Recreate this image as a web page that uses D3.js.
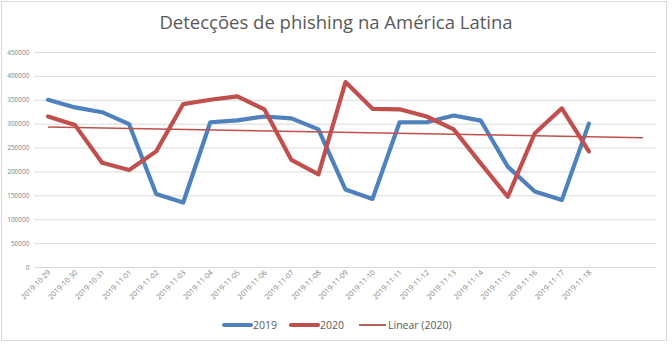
<!DOCTYPE html>
<html>
<head>
<meta charset="utf-8">
<script src="https://cdn.jsdelivr.net/npm/d3@7"></script>
<style>
  html, body { margin: 0; padding: 0; background: #fff; }
  svg { display: block; }
</style>
</head>
<body>
<svg id="chart" width="672" height="345"></svg>
<script>
// Daily phishing detections, Latin America
const dates = [
  "2019-10-29","2019-10-30","2019-10-31","2019-11-01","2019-11-02","2019-11-03",
  "2019-11-04","2019-11-05","2019-11-06","2019-11-07","2019-11-08","2019-11-09",
  "2019-11-10","2019-11-11","2019-11-12","2019-11-13","2019-11-14","2019-11-15",
  "2019-11-16","2019-11-17","2019-11-18"
];
const values2019 = [
  350000, 334000, 324000, 299000, 153000, 135000, 303000, 307000, 315000, 311000,
  288000, 162000, 142500, 303000, 303000, 317000, 306500, 210000, 158000, 140000, 300000
];
const values2020 = [
  315000, 297000, 218000, 203000, 242000, 341000, 350000, 357000, 330000, 224000,
  194000, 387000, 331000, 330000, 315000, 288000, 217000, 147000, 280000, 332000, 242000
];
const yTicks = [0, 50000, 100000, 150000, 200000, 250000, 300000, 350000, 400000, 450000];
const forwardPeriods = 2;  // trendline forecast forward

const svg = d3.select("#chart");
const W = 672, H = 345;
const margin = { left: 34.5, right: 15.5, top: 52, bottom: 78 };

// chart frame
svg.append("rect")
  .attr("x", 1.5).attr("y", 1.5)
  .attr("width", 665).attr("height", 339)
  .attr("fill", "#fff").attr("stroke", "#d9d9d9").attr("stroke-width", 1);

// title
svg.append("text")
  .attr("x", 336).attr("y", 29)
  .attr("text-anchor", "middle")
  .attr("font-family", "'Open Sans', sans-serif")
  .attr("font-size", 18.5)
  .attr("fill", "#595959")
  .text("Detecções de phishing na América Latina");

// category slots include the forecast periods of the trendline
const slots = d3.range(dates.length + forwardPeriods);
const x = d3.scaleBand()
  .domain(slots)
  .range([margin.left, W - margin.right]);
const cx = i => x(i) + x.bandwidth() / 2;

const y = d3.scaleLinear()
  .domain([0, 450000])
  .range([H - margin.bottom, margin.top]);

// horizontal gridlines
const yAxis = d3.axisLeft(y).tickValues(yTicks).tickSize(-(W - margin.right - margin.left)).tickPadding(5);
const gy = svg.append("g")
  .attr("transform", `translate(${margin.left},0)`)
  .call(yAxis);
gy.select(".domain").remove();
gy.selectAll(".tick line").attr("stroke", "#d9d9d9").attr("stroke-width", 1);
gy.selectAll(".tick text")
  .attr("font-family", "'Open Sans', sans-serif")
  .attr("font-size", 6.5)
  .attr("fill", "#7f7f7f")
  .text(d => d);

// category axis labels, rotated
const gx = svg.append("g")
  .attr("transform", `translate(0,${H - margin.bottom})`);
gx.selectAll("text")
  .data(dates)
  .join("text")
  .attr("transform", (d, i) => `translate(${cx(i) + 3},${6}) rotate(-45)`)
  .attr("text-anchor", "end")
  .attr("font-family", "'Open Sans', sans-serif")
  .attr("font-size", 7.3)
  .attr("fill", "#7f7f7f")
  .text(d => d);

// series lines
const line = d3.line()
  .x((d, i) => cx(i))
  .y(d => y(d));

svg.append("path")
  .datum(values2019)
  .attr("d", line)
  .attr("fill", "none")
  .attr("stroke", "#4f81bd")
  .attr("stroke-width", 4.2)
  .attr("stroke-linejoin", "round")
  .attr("stroke-linecap", "round");

svg.append("path")
  .datum(values2020)
  .attr("d", line)
  .attr("fill", "none")
  .attr("stroke", "#c0504d")
  .attr("stroke-width", 4.2)
  .attr("stroke-linejoin", "round")
  .attr("stroke-linecap", "round");

// least-squares linear trend of 2020, extended forward
const n = values2020.length;
const xs = d3.range(1, n + 1);
const mx = d3.mean(xs), my = d3.mean(values2020);
const slope = d3.sum(xs, (v, k) => (v - mx) * (values2020[k] - my)) / d3.sum(xs, v => (v - mx) ** 2);
const intercept = my - slope * mx;
const trendEnd = n - 1 + forwardPeriods;
svg.append("line")
  .attr("x1", cx(0)).attr("y1", y(intercept + slope * 1))
  .attr("x2", cx(trendEnd)).attr("y2", y(intercept + slope * (trendEnd + 1)))
  .attr("stroke", "#c0504d")
  .attr("stroke-width", 1.6);

// legend
const legendItems = [
  { label: "2019", color: "#4f81bd", width: 4.2, x: 224 },
  { label: "2020", color: "#c0504d", width: 4.2, x: 291 },
  { label: "Linear (2020)", color: "#a9504d", width: 1.8, x: 359 }
];
const lg = svg.append("g").attr("transform", "translate(0,325)");
legendItems.forEach(it => {
  lg.append("line")
    .attr("x1", it.x).attr("x2", it.x + 27)
    .attr("y1", 0).attr("y2", 0)
    .attr("stroke", it.color)
    .attr("stroke-width", it.width)
    .attr("stroke-linecap", it.width > 2 ? "round" : "butt");
  lg.append("text")
    .attr("x", it.x + 29).attr("y", 4)
    .attr("font-family", "'Open Sans', sans-serif")
    .attr("font-size", 10.5)
    .attr("fill", "#595959")
    .text(it.label);
});
</script>
</body>
</html>
